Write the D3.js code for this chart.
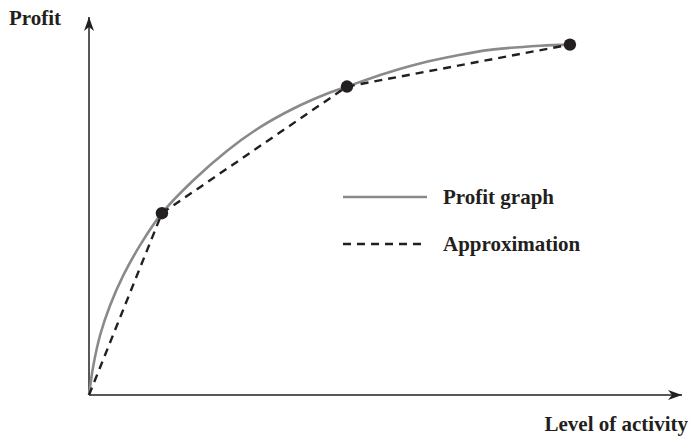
<!DOCTYPE html>
<html>
<head>
<meta charset="utf-8">
<script src="https://cdn.jsdelivr.net/npm/d3@7"></script>
<style>
  html, body { margin: 0; padding: 0; background: #fff; }
  svg { display: block; }
  text { font-family: "Liberation Serif", "Times New Roman", serif; font-weight: bold; fill: #231f20; }
</style>
</head>
<body>
<svg id="chart" width="689" height="437"></svg>
<script>
// Profit curve samples (activity, profit)
const curveActivity = [0, 0.07, 0.19, 0.35, 0.58, 0.88, 1.23, 1.76, 2.32, 2.88, 3.45, 4.01, 4.35, 5.02, 5.58, 6.20, 6.76, 7.61, 8.11];
const curveProfit   = [0, 0.75, 1.60, 2.35, 3.17, 4.01, 4.81, 5.68, 6.45, 7.08, 7.58, 7.97, 8.16, 8.52, 8.77, 8.98, 9.13, 9.24, 9.27];

// Piecewise-linear approximation breakpoints
const approxActivity = [0, 1.23, 4.35, 8.11];
const approxProfit   = [0, 4.81, 8.16, 9.27];

// Labels
const yAxisLabel = "Profit";
const xAxisLabel = "Level of activity";
const legendLabels = ["Profit graph", "Approximation"];

const svg = d3.select("#chart");
const x = d3.scaleLinear().domain([0, 10]).range([89, 682]);
const y = d3.scaleLinear().domain([0, 10]).range([395, 17]);

const axisColor = "#231f20";
const curveColor = "#8a8a8c";

// Arrowhead
const defs = svg.append("defs");
defs.append("marker")
  .attr("id", "arrow")
  .attr("viewBox", "0 0 14 10")
  .attr("refX", 14).attr("refY", 5)
  .attr("markerWidth", 14).attr("markerHeight", 10)
  .attr("markerUnits", "userSpaceOnUse")
  .attr("orient", "auto")
  .append("path")
  .attr("d", "M0,0 L14,5 L0,10 L4,5 Z")
  .attr("fill", axisColor);

// Axes
svg.append("line")
  .attr("x1", x(0)).attr("y1", y(0))
  .attr("x2", x(10)).attr("y2", y(0))
  .attr("stroke", axisColor).attr("stroke-width", 1.5)
  .attr("marker-end", "url(#arrow)");
svg.append("line")
  .attr("x1", x(0)).attr("y1", y(0))
  .attr("x2", x(0)).attr("y2", y(10))
  .attr("stroke", axisColor).attr("stroke-width", 1.5)
  .attr("marker-end", "url(#arrow)");

// Profit curve
const curveData = curveActivity.map((a, i) => [a, curveProfit[i]]);
svg.append("path")
  .datum(curveData)
  .attr("d", d3.line().x(d => x(d[0])).y(d => y(d[1])).curve(d3.curveCatmullRom.alpha(0.5)))
  .attr("fill", "none")
  .attr("stroke", curveColor)
  .attr("stroke-width", 2.6);

// Approximation
const approxData = approxActivity.map((a, i) => [a, approxProfit[i]]);
svg.append("path")
  .datum(approxData)
  .attr("d", d3.line().x(d => x(d[0])).y(d => y(d[1])))
  .attr("fill", "none")
  .attr("stroke", axisColor)
  .attr("stroke-width", 2.4)
  .attr("stroke-dasharray", "8,6");

// Breakpoints
svg.selectAll("circle.pt")
  .data(approxData.slice(1))
  .join("circle")
  .attr("class", "pt")
  .attr("cx", d => x(d[0]))
  .attr("cy", d => y(d[1]))
  .attr("r", 6.2)
  .attr("fill", axisColor);

// Axis labels
svg.append("text").attr("x", 9).attr("y", 25)
  .attr("font-size", 21).text(yAxisLabel);
svg.append("text").attr("x", 688).attr("y", 431)
  .attr("text-anchor", "end").attr("font-size", 21).text(xAxisLabel);

// Legend
const legend = svg.append("g");
const legendStyles = [
  { stroke: curveColor, width: 2.6, dash: null },
  { stroke: axisColor, width: 2.4, dash: "8,6" }
];
legendLabels.forEach((lbl, i) => {
  const ly = 197 + i * 47;
  legend.append("line")
    .attr("x1", 343).attr("x2", 427)
    .attr("y1", ly).attr("y2", ly)
    .attr("stroke", legendStyles[i].stroke)
    .attr("stroke-width", legendStyles[i].width)
    .attr("stroke-dasharray", legendStyles[i].dash);
  legend.append("text")
    .attr("x", 443).attr("y", ly + 7)
    .attr("font-size", 21).text(lbl);
});
</script>
</body>
</html>
